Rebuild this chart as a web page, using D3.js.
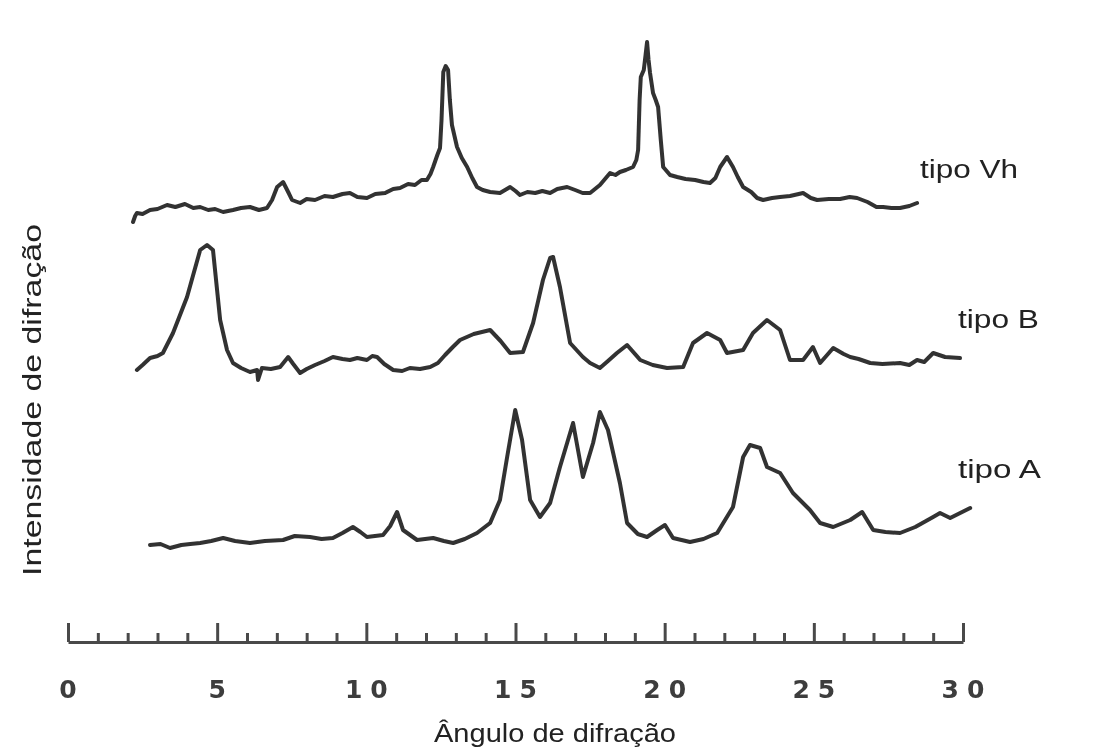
<!DOCTYPE html>
<html>
<head>
<meta charset="utf-8">
<script src="https://cdn.jsdelivr.net/npm/d3@7"></script>
<style>
  html, body { margin: 0; padding: 0; background: #ffffff; }
  svg { display: block; }
</style>
</head>
<body>
<svg id="chart" width="1100" height="750"></svg>
<script>
// Diffraction angle (2θ, degrees) and intensity (arbitrary units, stacked offsets included)
const vhAngle = [2.18,2.25,2.31,2.5,2.75,3.0,3.32,3.6,3.92,4.2,4.43,4.7,4.93,5.2,5.53,5.8,6.10,6.4,6.67,6.84,7.01,7.21,7.38,7.51,7.78,8.0,8.28,8.6,8.88,9.2,9.45,9.7,10.02,10.3,10.63,10.9,11.13,11.4,11.63,11.85,12.03,12.15,12.24,12.38,12.47,12.52,12.58,12.66,12.74,12.80,12.87,13.04,13.2,13.38,13.55,13.71,13.9,14.15,14.48,14.82,15.0,15.15,15.4,15.66,15.9,16.16,16.4,16.73,17.0,17.25,17.50,17.83,18.0,18.17,18.35,18.50,18.7,18.94,19.05,19.11,19.16,19.2,19.3,19.36,19.41,19.46,19.51,19.61,19.7,19.78,19.87,19.95,20.18,20.42,20.7,21.02,21.3,21.52,21.7,21.86,22.09,22.29,22.45,22.63,22.9,23.1,23.30,23.6,23.87,24.2,24.64,24.9,25.11,25.5,25.88,26.2,26.45,26.8,27.1,27.32,27.6,27.89,28.2,28.46];
const vhIntensity = [418,424,427,426,430,431,435,433,436,432,433,430,431,428,430,432,433,430,432,440,453,458,448,440,437,441,440,444,443,446,447,443,442,446,447,451,452,456,455,460,460,466,473,485,492,520,568,574,570,540,515,493,482,473,462,453,450,448,447,453,449,445,448,447,449,447,451,453,450,447,447,455,461,467,465,468,470,473,480,490,540,563,570,585,598,580,567,547,540,533,500,473,465,463,461,460,458,457,462,473,483,473,463,453,448,442,440,442,443,444,447,442,440,441,441,443,442,438,433,433,432,432,434,437];

const bAngle = [2.31,2.5,2.75,3.0,3.18,3.52,3.99,4.43,4.66,4.86,5.10,5.33,5.53,5.8,6.1,6.34,6.37,6.50,6.8,7.11,7.38,7.55,7.78,8.0,8.28,8.6,8.88,9.2,9.45,9.7,10.02,10.2,10.36,10.6,10.90,11.2,11.46,11.8,12.14,12.4,12.64,12.9,13.14,13.6,14.15,14.5,14.82,15.25,15.59,15.92,16.16,16.26,16.49,16.83,17.26,17.5,17.83,18.1,18.40,18.74,19.18,19.6,20.08,20.62,20.95,21.42,21.86,22.09,22.63,22.96,23.43,23.87,24.20,24.64,24.97,25.21,25.65,26.0,26.22,26.5,26.89,27.3,27.89,28.2,28.46,28.7,29.00,29.40,29.90];
const bIntensity = [270,275,282,284,287,307,343,390,395,390,320,290,277,272,268,270,260,272,271,273,283,276,267,271,275,279,283,281,280,282,280,284,283,276,270,269,272,271,273,277,285,293,300,306,310,299,287,288,317,360,382,383,353,297,283,277,272,279,287,295,280,275,272,273,297,307,300,287,290,307,320,310,280,280,293,277,292,286,283,281,277,276,277,275,280,278,287,283,282];

const aAngle = [2.75,3.1,3.42,3.8,4.1,4.43,4.8,5.20,5.6,6.10,6.6,7.21,7.6,8.11,8.5,8.88,9.2,9.55,9.8,10.02,10.56,10.8,11.03,11.23,11.70,12.24,12.6,12.91,13.3,13.71,14.15,14.48,14.72,14.99,15.22,15.49,15.82,16.16,16.49,16.93,17.26,17.60,17.83,18.10,18.50,18.74,19.1,19.41,19.75,20.01,20.28,20.85,21.3,21.76,22.29,22.63,22.86,23.20,23.43,23.87,24.30,24.87,25.21,25.65,26.22,26.62,26.99,27.4,27.89,28.4,29.00,29.23,29.57,30.24];
const aIntensity = [95,96,92,95,96,97,99,102,99,97,99,100,104,103,101,102,107,113,108,103,105,114,128,110,100,102,99,97,101,107,117,140,183,230,200,140,123,137,173,217,163,197,228,210,157,117,106,103,110,115,102,98,101,107,133,183,195,192,173,167,147,130,117,113,120,128,110,108,107,113,123,127,122,132];

const seriesNames = ["tipo Vh", "tipo B", "tipo A"];
const tickLabels = [0, 5, 10, 15, 20, 25, 30];
const xTitle = "Ângulo de difração";
const yTitle = "Intensidade de difração";

const svg = d3.select("#chart");

// Slight softening of the printed strokes
svg.append("defs").append("filter")
  .attr("id", "soft")
  .append("feGaussianBlur")
  .attr("stdDeviation", 0.6);

const root = svg.append("g").attr("filter", "url(#soft)");

const x = d3.scaleLinear().domain([0, 30]).range([68, 963]);
const y = d3.scaleLinear().domain([0, 600]).range([640, 40]);

const series = [
  { name: seriesNames[0], angle: vhAngle, intensity: vhIntensity, label: [920, 178], width: 98 },
  { name: seriesNames[1], angle: bAngle, intensity: bIntensity, label: [958, 328], width: 81 },
  { name: seriesNames[2], angle: aAngle, intensity: aIntensity, label: [958, 478], width: 83 }
];

const line = d3.line()
  .x(d => x(d[0]))
  .y(d => y(d[1]));

// Diffraction traces
root.append("g")
  .selectAll("path")
  .data(series)
  .join("path")
  .attr("d", s => line(d3.zip(s.angle, s.intensity)))
  .attr("fill", "none")
  .attr("stroke", "#333")
  .attr("stroke-width", 4)
  .attr("stroke-linejoin", "round")
  .attr("stroke-linecap", "round");

// Trace names
root.append("g")
  .selectAll("text")
  .data(series)
  .join("text")
  .attr("x", s => s.label[0])
  .attr("y", s => s.label[1])
  .attr("textLength", s => s.width)
  .attr("lengthAdjust", "spacingAndGlyphs")
  .attr("font-family", "Liberation Sans, Arial, sans-serif")
  .attr("font-size", 25)
  .attr("fill", "#222")
  .text(s => s.name);

// Angle scale with upward ticks
const axisY = 642;
const axis = d3.axisTop(x)
  .tickValues(d3.range(0, 31))
  .tickSize(9)
  .tickSizeOuter(0)
  .tickFormat("");

const gAxis = root.append("g")
  .attr("transform", `translate(0,${axisY})`)
  .call(axis);

gAxis.select(".domain")
  .attr("stroke", "#4a4a4a")
  .attr("stroke-width", 3.2);
gAxis.selectAll(".tick line")
  .attr("stroke", "#4a4a4a")
  .attr("stroke-width", 3)
  .attr("y2", d => d % 5 === 0 ? -19 : -9);

root.append("g")
  .selectAll("text")
  .data(tickLabels)
  .join("text")
  .attr("x", d => x(d) + 4)
  .attr("y", 698)
  .attr("text-anchor", "middle")
  .attr("font-family", "DejaVu Sans, sans-serif")
  .attr("font-weight", "bold")
  .attr("font-size", 25)
  .attr("letter-spacing", 8)
  .attr("fill", "#3c3c3c")
  .text(d => d);

// Axis titles
root.append("text")
  .attr("x", 555)
  .attr("y", 742)
  .attr("text-anchor", "middle")
  .attr("textLength", 242)
  .attr("lengthAdjust", "spacingAndGlyphs")
  .attr("font-family", "Liberation Sans, Arial, sans-serif")
  .attr("font-size", 25)
  .attr("fill", "#222")
  .text(xTitle);

root.append("text")
  .attr("transform", "translate(41,400) rotate(-90)")
  .attr("text-anchor", "middle")
  .attr("textLength", 352)
  .attr("lengthAdjust", "spacingAndGlyphs")
  .attr("font-family", "Liberation Sans, Arial, sans-serif")
  .attr("font-size", 25)
  .attr("fill", "#222")
  .text(yTitle);
</script>
</body>
</html>
